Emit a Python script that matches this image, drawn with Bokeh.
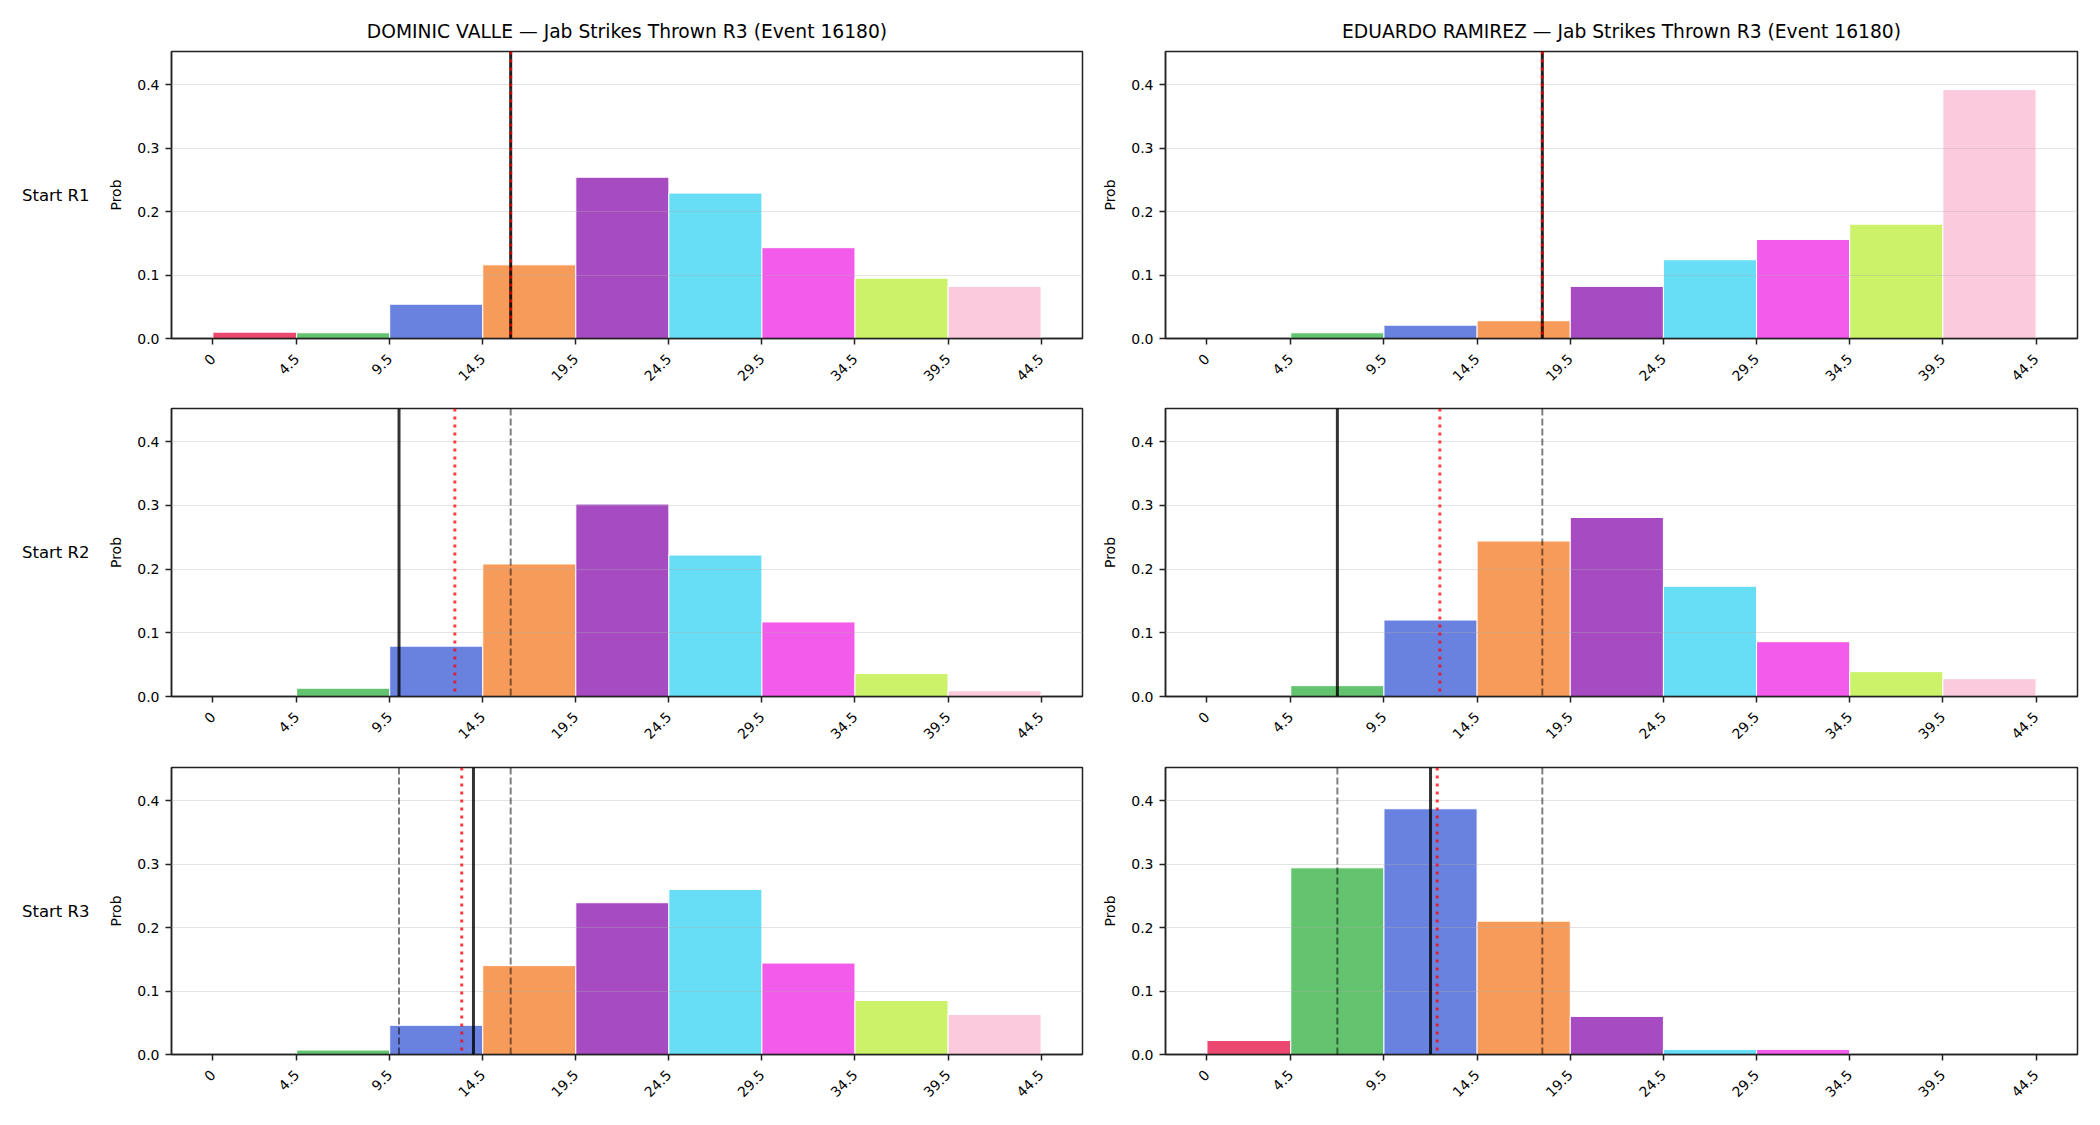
from math import pi
from bokeh.plotting import figure
from bokeh.models import (Range1d, FixedTicker, Span, PrintfTickFormatter,
                          ColumnDataSource, LinearAxis)
from bokeh.layouts import gridplot
from bokeh.embed import file_html
from bokeh.resources import INLINE

# ---------------- data ----------------
bin_edges = [0, 4.5, 9.5, 14.5, 19.5, 24.5, 29.5, 34.5, 39.5, 44.5]
tick_labels = ["0", "4.5", "9.5", "14.5", "19.5", "24.5", "29.5", "34.5", "39.5", "44.5"]
bar_colors = ["#e6194b", "#3cb44b", "#4363d8", "#f58231", "#911eb4",
              "#42d4f4", "#f032e6", "#bfef45", "#fabed4"]
round_labels = ["Start R1", "Start R2", "Start R3"]
fighters = ["DOMINIC VALLE", "EDUARDO RAMIREZ"]
title_suffix = " \u2014 Jab Strikes Thrown R3 (Event 16180)"

valle_r1 = [0.010, 0.009, 0.054, 0.116, 0.254, 0.229, 0.143, 0.095, 0.082]
valle_r2 = [0.000, 0.013, 0.079, 0.208, 0.302, 0.222, 0.117, 0.036, 0.009]
valle_r3 = [0.000, 0.007, 0.046, 0.140, 0.239, 0.260, 0.144, 0.085, 0.063]

ramirez_r1 = [0.000, 0.009, 0.021, 0.028, 0.082, 0.124, 0.156, 0.180, 0.392]
ramirez_r2 = [0.000, 0.017, 0.120, 0.244, 0.281, 0.173, 0.086, 0.039, 0.028]
ramirez_r3 = [0.022, 0.294, 0.387, 0.210, 0.060, 0.008, 0.008, 0.000, 0.000]

# vertical reference lines per round
valle_actual = [16, 10, 14]            # solid black
valle_mean = [16, 13.0, 13.37]         # red dotted
valle_marks = [[16], [16], [10, 16]]   # grey dashed

ramirez_actual = [18, 7, 12]
ramirez_mean = [18, 12.5, 12.36]
ramirez_marks = [[18], [18], [7, 18]]

series = [[valle_r1, valle_r2, valle_r3], [ramirez_r1, ramirez_r2, ramirez_r3]]
actuals = [valle_actual, ramirez_actual]
means = [valle_mean, ramirez_mean]
marks = [valle_marks, ramirez_marks]

Y_MAX = 0.452
FONT = "DejaVu Sans"

# ---------------- layout geometry ----------------
col_geom = [dict(width=1095, left=171, right=13), dict(width=1005, left=70, right=23)]
row_geom = [dict(height=400, top=51, bottom=62),
            dict(height=359, top=8, bottom=63),
            dict(height=366, top=8, bottom=71)]


def add_row_label(p, text):
    ax2 = LinearAxis(ticker=FixedTicker(ticks=[]), axis_label=text)
    ax2.axis_line_color = None
    ax2.major_tick_line_color = None
    ax2.minor_tick_line_color = None
    ax2.major_tick_out = 0
    ax2.major_tick_in = 0
    ax2.major_label_standoff = 0
    ax2.major_label_text_font_size = "0px"
    ax2.axis_label_text_font = FONT
    ax2.axis_label_text_font_size = "16.5px"
    ax2.axis_label_text_font_style = "normal"
    ax2.axis_label_text_color = "black"
    ax2.axis_label_standoff = 16
    try:
        ax2.axis_label_orientation = "horizontal"
    except Exception:
        pass
    p.add_layout(ax2, "left")


def make_panel(ci, ri):
    cg, rg = col_geom[ci], row_geom[ri]
    title = fighters[ci] + title_suffix if ri == 0 else None
    p = figure(width=cg["width"], height=rg["height"], output_backend="svg",
               toolbar_location=None, title=title,
               x_range=Range1d(-2.225, 46.725), y_range=Range1d(0, Y_MAX),
               min_border_left=cg["left"], min_border_right=cg["right"],
               min_border_top=rg["top"], min_border_bottom=rg["bottom"])
    p.background_fill_color = "white"
    p.border_fill_color = "white"
    p.outline_line_color = "#222222"
    p.outline_line_width = 1.5
    p.outline_line_alpha = 1.0
    if title:
        p.title.text_font = FONT
        p.title.text_font_size = "18.7px"
        p.title.text_font_style = "normal"
        p.title.text_color = "black"
        p.title.align = "center"
        p.title.standoff = 19

    vals = series[ci][ri]
    src = ColumnDataSource(dict(left=bin_edges[:-1], right=bin_edges[1:],
                                top=vals, bottom=[0] * len(vals), color=bar_colors))
    p.quad(left="left", right="right", top="top", bottom="bottom", source=src,
           fill_color="color", fill_alpha=0.8, line_color="white", line_width=1)

    # grid on top of bars
    p.xgrid.visible = False
    p.ygrid.ticker = FixedTicker(ticks=[0, 0.1, 0.2, 0.3, 0.4])
    p.ygrid.grid_line_color = "#b0b0b0"
    p.ygrid.grid_line_alpha = 0.35
    p.ygrid.grid_line_width = 1
    p.ygrid.level = "guide"

    # reference lines
    for m in marks[ci][ri]:
        p.add_layout(Span(location=m, dimension="height", line_color="black",
                          line_alpha=0.5, line_width=2, line_dash="7 3"))
    p.add_layout(Span(location=actuals[ci][ri], dimension="height", line_color="black",
                      line_alpha=0.8, line_width=3))
    p.add_layout(Span(location=means[ci][ri], dimension="height", line_color="red",
                      line_alpha=0.75, line_width=3, line_dash="3 5"))

    # axes
    p.xaxis.ticker = FixedTicker(ticks=bin_edges)
    p.xaxis.major_label_overrides = {float(e): l for e, l in zip(bin_edges, tick_labels)}
    p.xaxis.major_label_orientation = pi / 4
    p.yaxis.ticker = FixedTicker(ticks=[0, 0.1, 0.2, 0.3, 0.4])
    p.yaxis.formatter = PrintfTickFormatter(format="%.1f")
    p.yaxis.axis_label = "Prob"
    p.yaxis.axis_label_text_font = FONT
    p.yaxis.axis_label_text_font_size = "14px"
    p.yaxis.axis_label_text_font_style = "normal"
    p.yaxis.axis_label_text_color = "black"
    p.yaxis.axis_label_standoff = 10
    for ax in (p.xaxis[0], p.yaxis[0]):
        ax.major_label_text_font = FONT
        ax.major_label_text_font_size = "14px"
        ax.major_label_text_color = "black"
        ax.axis_line_color = "#222222"
        ax.axis_line_width = 1.5
        ax.major_tick_line_color = "#222222"
        ax.major_tick_line_width = 1.5
        ax.major_tick_out = 6
        ax.major_tick_in = 0
        ax.minor_tick_line_color = None
    p.yaxis.major_label_standoff = 6
    p.xaxis.major_label_standoff = 12

    if ci == 0:
        add_row_label(p, round_labels[ri])
    return p


rows = [[make_panel(0, r), make_panel(1, r)] for r in range(3)]
grid = gridplot(rows, toolbar_location=None)

open("out.html", "w").write(file_html(grid, INLINE))
